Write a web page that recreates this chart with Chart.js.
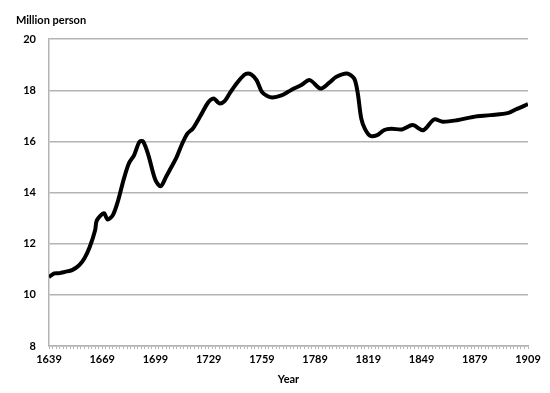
<!DOCTYPE html>
<html>
<head>
<meta charset="utf-8">
<script src="https://cdn.jsdelivr.net/npm/chart.js@4"></script>
<style>
  html, body { margin: 0; padding: 0; background: #fff; }
  #wrap { width: 550px; height: 393px; }
</style>
</head>
<body>
<div id="wrap"><canvas id="popChart"></canvas></div>
<script>
// values
const years = [1639, 1642, 1645, 1648, 1652, 1656, 1659, 1662, 1665, 1666, 1670, 1672, 1675, 1678, 1681, 1684, 1687, 1690, 1692, 1695, 1699, 1702, 1705, 1708, 1711, 1714, 1717, 1720, 1724, 1728, 1730, 1732, 1735, 1738, 1741, 1744, 1747, 1750, 1753, 1756, 1759, 1762, 1765, 1770, 1774, 1777, 1781, 1786, 1792, 1797, 1801, 1807, 1811, 1813, 1815, 1817, 1820, 1824, 1828, 1832, 1838, 1844, 1850, 1856, 1861, 1869, 1878, 1888, 1898, 1902, 1909];
const population = [10.7, 10.84, 10.85, 10.9, 10.97, 11.16, 11.43, 11.88, 12.53, 12.92, 13.19, 12.95, 13.12, 13.7, 14.49, 15.14, 15.47, 15.99, 16.0, 15.47, 14.49, 14.25, 14.62, 15.0, 15.4, 15.9, 16.31, 16.5, 16.96, 17.45, 17.62, 17.68, 17.49, 17.58, 17.9, 18.2, 18.46, 18.64, 18.62, 18.4, 17.94, 17.78, 17.72, 17.8, 17.95, 18.07, 18.2, 18.4, 18.07, 18.3, 18.53, 18.66, 18.46, 17.9, 16.9, 16.5, 16.22, 16.25, 16.45, 16.5, 16.47, 16.64, 16.44, 16.86, 16.77, 16.83, 16.96, 17.03, 17.12, 17.25, 17.46];
const xLabelYears = [1639, 1669, 1699, 1729, 1759, 1789, 1819, 1849, 1879, 1909];
const yTicks = [8, 10, 12, 14, 16, 18, 20];

const font = "Lato, 'Open Sans', sans-serif";
const gridGray = '#b4b4b4';

new Chart(document.getElementById('popChart').getContext('2d'), {
    type: 'line',
    data: {
        datasets: [{
            data: years.map((y, i) => ({ x: y, y: population[i] })),
            borderColor: '#000',
            borderWidth: 4,
            pointRadius: 0,
            tension: 0.3,
            fill: false
        }]
    },
    options: {
        responsive: true, maintainAspectRatio: false,
        animation: false,
        layout: { padding: { left: 16, right: 22, top: 14, bottom: 0 } },
        plugins: {
            legend: { display: false },
            tooltip: { enabled: false },
            title: {
                display: true, text: 'Million person', align: 'start',
                color: '#000', font: { family: font, size: 11, weight: 'bold' },
                padding: { top: 0, bottom: 12 }
            }
        },
        scales: {
            x: {
                type: 'linear', min: 1639, max: 1909,
                afterBuildTicks: s => {
                    // a small tick every 2 years, labelled every 30
                    const t = [];
                    for (let v = 1639; v <= 1909; v += 2) t.push({ value: v });
                    s.ticks = t;
                },
                afterFit: s => { s.height = 47; },
                ticks: {
                    autoSkip: false, maxRotation: 0, padding: 4,
                    color: '#000', font: { family: font, size: 11, weight: 'bold' },
                    callback: v => xLabelYears.includes(v) ? String(v) : ''
                },
                grid: { drawOnChartArea: false, drawTicks: true, tickLength: 3, color: gridGray },
                border: { color: gridGray, width: 1.5 },
                title: {
                    display: true, text: 'Year', color: '#000',
                    font: { family: font, size: 11, weight: 'bold' },
                    padding: { top: 4, bottom: 7 }
                }
            },
            y: {
                min: 8, max: 20,
                afterBuildTicks: s => { s.ticks = yTicks.map(v => ({ value: v })); },
                afterFit: s => { s.width = 33; },
                ticks: {
                    padding: 13, color: '#000',
                    font: { family: font, size: 11, weight: 'bold' }
                },
                grid: { color: gridGray, lineWidth: 1.5, drawTicks: false },
                border: { color: gridGray, width: 1.5 }
            }
        }
    }
});
</script>
</body>
</html>
